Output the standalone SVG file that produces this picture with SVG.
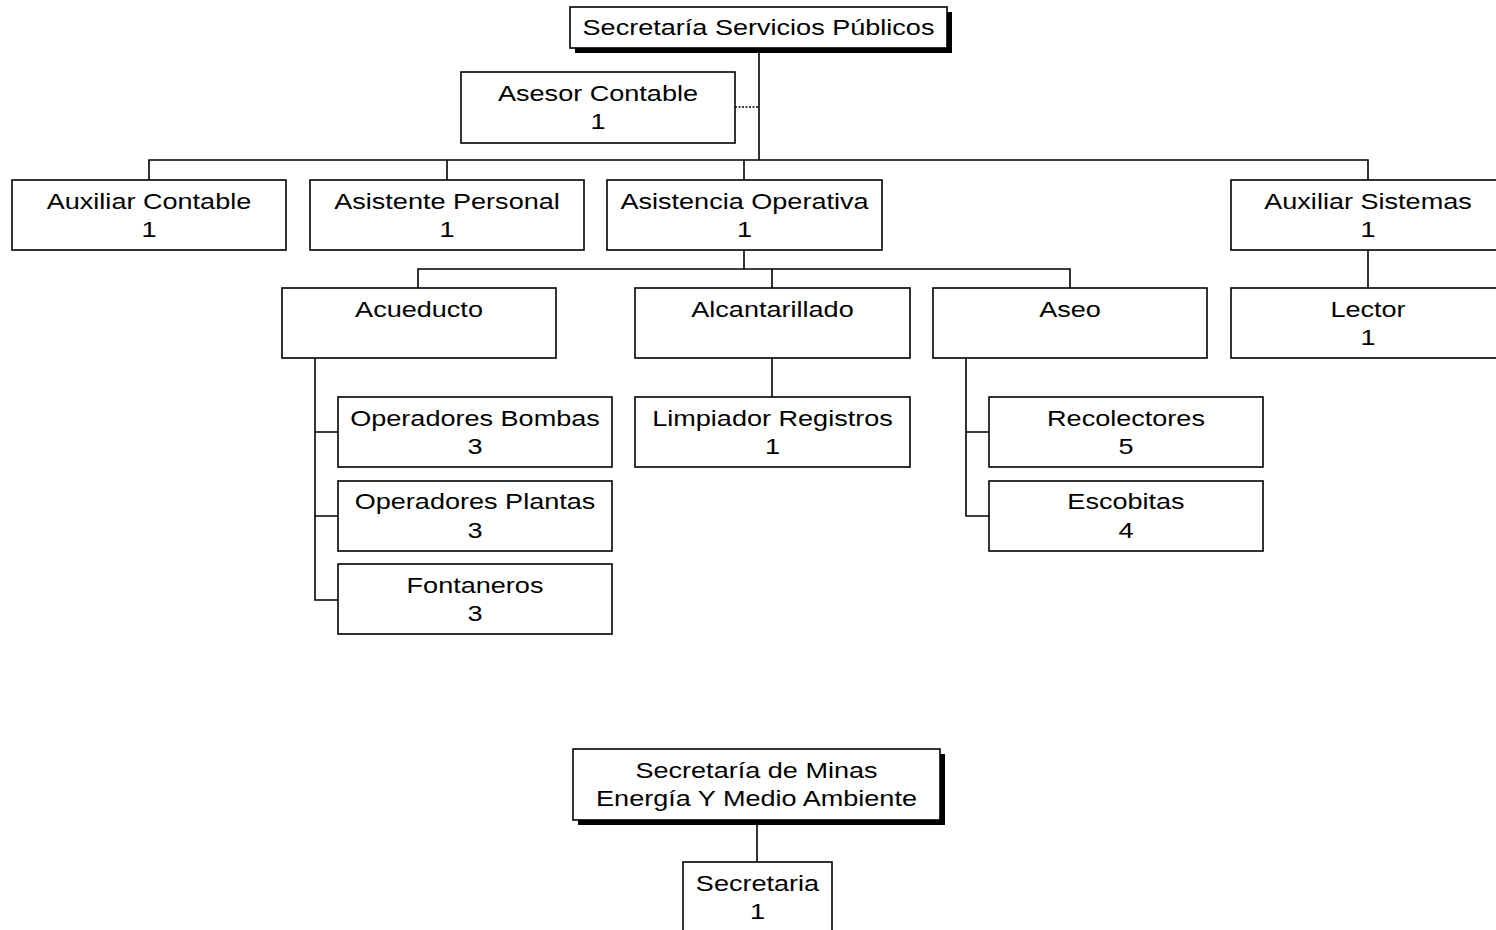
<svg xmlns="http://www.w3.org/2000/svg" width="1496" height="930" viewBox="0 0 1496 930">
<style>
.box{fill:#fff;stroke:#000;stroke-width:1.6}
.sh{fill:#000}
.t{font-family:"Liberation Sans",Arial,sans-serif;font-size:22px;fill:#000;text-anchor:middle}
.c{fill:none;stroke:#000;stroke-width:1.6}
.d{fill:none;stroke:#000;stroke-width:1.4;stroke-dasharray:2 1.5}
</style>
<rect width="1496" height="930" fill="#fff"/>
<g id="connectors">
<path class="c" d="M759 48V160M149 180V160H1368V180M447 160V180M744 160V180"/>
<path class="d" d="M735 107H759"/>
<path class="c" d="M744 250V269M418 288V269H1070V288M772 269V288"/>
<path class="c" d="M315 358V600H338M315 432H338M315 516H338"/>
<path class="c" d="M772 358V397"/>
<path class="c" d="M966 358V516H989M966 432H989"/>
<path class="c" d="M1368 250V288"/>
<path class="c" d="M757 820V862"/>
</g>
<g id="n-secretaria-servicios">
<rect class="sh" x="575" y="12" width="377" height="41"/>
<rect class="box" x="570" y="7" width="377" height="41"/>
<text class="t" transform="matrix(1.23 0 0 1 758.5 0)"><tspan x="0" y="35">Secretaría Servicios Públicos</tspan></text>
</g>
<g id="n-asesor-contable">
<rect class="box" x="461" y="72" width="274" height="71"/>
<text class="t" transform="matrix(1.23 0 0 1 598 0)"><tspan x="0" y="101">Asesor Contable</tspan><tspan x="0" y="129">1</tspan></text>
</g>
<g id="n-auxiliar-contable">
<rect class="box" x="12" y="180" width="274" height="70"/>
<text class="t" transform="matrix(1.23 0 0 1 149 0)"><tspan x="0" y="209">Auxiliar Contable</tspan><tspan x="0" y="237">1</tspan></text>
</g>
<g id="n-asistente-personal">
<rect class="box" x="310" y="180" width="274" height="70"/>
<text class="t" transform="matrix(1.23 0 0 1 447 0)"><tspan x="0" y="209">Asistente Personal</tspan><tspan x="0" y="237">1</tspan></text>
</g>
<g id="n-asistencia-operativa">
<rect class="box" x="607" y="180" width="275" height="70"/>
<text class="t" transform="matrix(1.23 0 0 1 744.5 0)"><tspan x="0" y="209">Asistencia Operativa</tspan><tspan x="0" y="237">1</tspan></text>
</g>
<g id="n-auxiliar-sistemas">
<rect class="box" x="1231" y="180" width="274" height="70"/>
<text class="t" transform="matrix(1.23 0 0 1 1368 0)"><tspan x="0" y="209">Auxiliar Sistemas</tspan><tspan x="0" y="237">1</tspan></text>
</g>
<g id="n-acueducto">
<rect class="box" x="282" y="288" width="274" height="70"/>
<text class="t" transform="matrix(1.23 0 0 1 419 0)"><tspan x="0" y="317">Acueducto</tspan></text>
</g>
<g id="n-alcantarillado">
<rect class="box" x="635" y="288" width="275" height="70"/>
<text class="t" transform="matrix(1.23 0 0 1 772.5 0)"><tspan x="0" y="317">Alcantarillado</tspan></text>
</g>
<g id="n-aseo">
<rect class="box" x="933" y="288" width="274" height="70"/>
<text class="t" transform="matrix(1.23 0 0 1 1070 0)"><tspan x="0" y="317">Aseo</tspan></text>
</g>
<g id="n-lector">
<rect class="box" x="1231" y="288" width="274" height="70"/>
<text class="t" transform="matrix(1.23 0 0 1 1368 0)"><tspan x="0" y="317">Lector</tspan><tspan x="0" y="345">1</tspan></text>
</g>
<g id="n-operadores-bombas">
<rect class="box" x="338" y="397" width="274" height="70"/>
<text class="t" transform="matrix(1.23 0 0 1 475 0)"><tspan x="0" y="426">Operadores Bombas</tspan><tspan x="0" y="454">3</tspan></text>
</g>
<g id="n-operadores-plantas">
<rect class="box" x="338" y="481" width="274" height="70"/>
<text class="t" transform="matrix(1.23 0 0 1 475 0)"><tspan x="0" y="509">Operadores Plantas</tspan><tspan x="0" y="538">3</tspan></text>
</g>
<g id="n-fontaneros">
<rect class="box" x="338" y="564" width="274" height="70"/>
<text class="t" transform="matrix(1.23 0 0 1 475 0)"><tspan x="0" y="593">Fontaneros</tspan><tspan x="0" y="621">3</tspan></text>
</g>
<g id="n-limpiador-registros">
<rect class="box" x="635" y="397" width="275" height="70"/>
<text class="t" transform="matrix(1.23 0 0 1 772.5 0)"><tspan x="0" y="426">Limpiador Registros</tspan><tspan x="0" y="454">1</tspan></text>
</g>
<g id="n-recolectores">
<rect class="box" x="989" y="397" width="274" height="70"/>
<text class="t" transform="matrix(1.23 0 0 1 1126 0)"><tspan x="0" y="426">Recolectores</tspan><tspan x="0" y="454">5</tspan></text>
</g>
<g id="n-escobitas">
<rect class="box" x="989" y="481" width="274" height="70"/>
<text class="t" transform="matrix(1.23 0 0 1 1126 0)"><tspan x="0" y="509">Escobitas</tspan><tspan x="0" y="538">4</tspan></text>
</g>
<g id="n-secretaria-minas">
<rect class="sh" x="578" y="754" width="367" height="71"/>
<rect class="box" x="573" y="749" width="367" height="71"/>
<text class="t" transform="matrix(1.23 0 0 1 756.5 0)"><tspan x="0" y="778">Secretaría de Minas</tspan><tspan x="0" y="806">Energía Y Medio Ambiente</tspan></text>
</g>
<g id="n-secretaria">
<rect class="box" x="683" y="862" width="149" height="80"/>
<text class="t" transform="matrix(1.23 0 0 1 757.5 0)"><tspan x="0" y="891">Secretaria</tspan><tspan x="0" y="919">1</tspan></text>
</g>
</svg>
